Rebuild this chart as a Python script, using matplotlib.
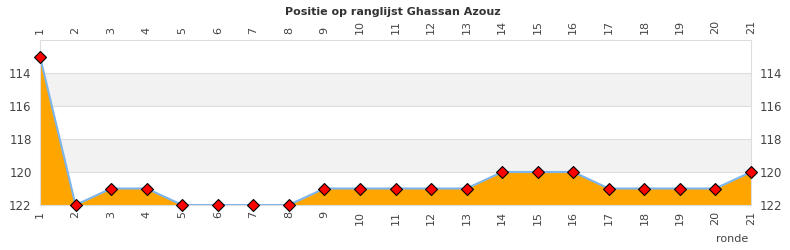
import matplotlib
matplotlib.use("Agg")
import matplotlib.pyplot as plt

rounds = list(range(1, 22))
positions = [113, 122, 121, 121, 122, 122, 122, 122, 121, 121, 121, 121, 121,
             120, 120, 120, 121, 121, 121, 121, 120]
yticks = [114, 116, 118, 120, 122]

fig = plt.figure(figsize=(7.9, 2.5), dpi=100)
ax = fig.add_axes([40/790, 45/250, 711/790, 165/250])
ax.set_xlim(1, 21)
ax.set_ylim(122, 112)

for lo, hi in [(114, 116), (118, 120)]:
    ax.axhspan(lo, hi, color="#f2f2f2", zorder=0, lw=0)
for y in [114, 116, 118, 120]:
    ax.axhline(y, color="#dddddd", lw=0.8, zorder=0.5)

ax.fill_between(rounds, positions, 122, color="#FFA500", zorder=1, lw=0)
ax.plot(rounds, positions, color="#7cb5ec", lw=1.5, zorder=2)
ax.plot(rounds, positions, ls="none", marker="D", ms=6.2, mfc="#ff0000",
        mec="#000000", mew=0.8, zorder=3, clip_on=False)

ax.set_xticks(rounds)
ax.set_xticklabels([str(r) for r in rounds], rotation=90)
ax.set_yticks(yticks)
ax.tick_params(axis="x", which="both", top=True, labeltop=True, bottom=True,
               labelbottom=True, length=0, labelsize=8, colors="#444444", pad=4)
ax.tick_params(axis="y", which="both", left=True, right=True, labelleft=True,
               labelright=True, length=0, labelsize=8.5, colors="#444444", pad=6)
for s in ax.spines.values():
    s.set_color("#dddddd")
    s.set_linewidth(0.8)

fig.text(393/790, 1 - 12/250, "Positie op ranglijst Ghassan Azouz", ha="center",
         va="center", fontsize=8, fontweight="bold", color="#333333")
fig.text(748/790, 1 - 239/250, "ronde", ha="right", va="center", fontsize=8,
         color="#444444")

fig.savefig("out.png", dpi=100)
